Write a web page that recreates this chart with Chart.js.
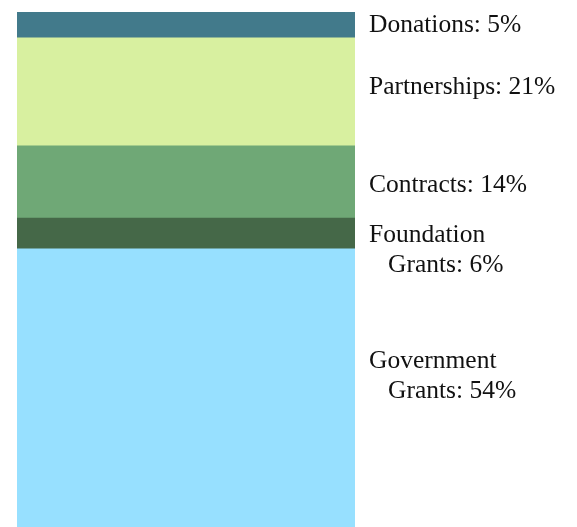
<!DOCTYPE html>
<html>
<head>
<meta charset="utf-8">
<script src="https://cdn.jsdelivr.net/npm/chart.js@4/dist/chart.umd.min.js"></script>
<style>
html,body{margin:0;padding:0;background:#fff;}
#wrap{width:577px;height:527px;position:relative;}
</style>
</head>
<body>
<div id="wrap"><canvas id="c"></canvas></div>
<script>
// Data (bottom to top)
const categories = ["Funding"];
const sourceNames = ["Government Grants", "Foundation Grants", "Contracts", "Partnerships", "Donations"];
const sourceValues = [54, 6, 14, 21, 5];
const sourceColors = ["#97E0FF", "#456848", "#6FA876", "#D8F0A0", "#427A8B"];
// label lines for each source
const labelLines = [
  ["Government", "  Grants: 54%"],
  ["Foundation", "  Grants: 6%"],
  ["Contracts: 14%"],
  ["Partnerships: 21%"],
  ["Donations: 5%"]
];

const labelPlugin = {
  id: 'sideLabels',
  afterDatasetsDraw(chart, args, opts) {
    const ctx = chart.ctx;
    const y = chart.scales.y;
    const x0 = chart.chartArea.right + opts.gap;
    ctx.save();
    ctx.font = opts.font;
    ctx.fillStyle = opts.color;
    ctx.textBaseline = 'middle';
    ctx.textAlign = 'left';
    let base = 0;
    sourceValues.forEach((v, i) => {
      const top = Math.max(y.getPixelForValue(base + v), chart.chartArea.top);
      const bot = Math.min(y.getPixelForValue(base), chart.chartArea.bottom);
      base += v;
      const lines = labelLines[i];
      const cy = (top + bot) / 2 + opts.nudge[i];
      const startY = cy - (lines.length - 1) * opts.lineHeight / 2;
      lines.forEach((ln, k) => {
        const indent = ln.startsWith("  ") ? opts.indent : 0;
        ctx.fillText(ln.trim(), x0 + indent, startY + k * opts.lineHeight);
      });
    });
    ctx.restore();
  }
};

new Chart(document.getElementById('c'), {
  type: 'bar',
  data: {
    labels: categories,
    datasets: sourceNames.map((n, i) => ({
      label: n,
      data: [sourceValues[i]],
      backgroundColor: sourceColors[i],
      borderWidth: 0,
      barPercentage: 1,
      categoryPercentage: 1
    }))
  },
  options: {
    responsive: true,
    maintainAspectRatio: false,
    animation: false,
    layout: { padding: { left: 17, right: 222, top: 12, bottom: 0 } },
    scales: {
      x: { stacked: true, display: false },
      y: { stacked: true, display: false, min: 0, max: 100 }
    },
    plugins: {
      legend: { display: false },
      tooltip: { enabled: false },
      sideLabels: {
        font: '25.5px "Liberation Serif", serif',
        color: '#111',
        gap: 14,
        lineHeight: 30,
        indent: 19,
        nudge: [-12, 16.5, 3, -5, 0]
      }
    }
  },
  plugins: [labelPlugin]
});
</script>
</body>
</html>
